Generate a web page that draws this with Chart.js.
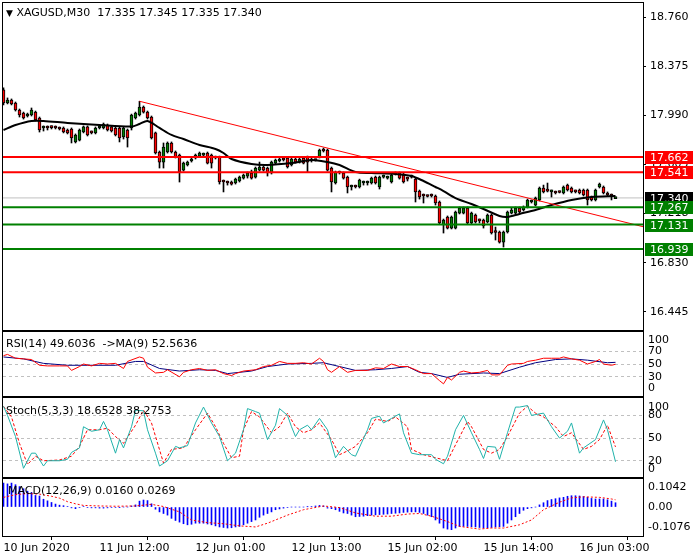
<!DOCTYPE html>
<html>
<head>
<meta charset="utf-8">
<script src="https://cdn.jsdelivr.net/npm/chart.js@4/dist/chart.umd.min.js"></script>
<style>
  body { margin: 0; background: #fff; }
  #wrap { position: relative; width: 700px; height: 560px; font-family: "DejaVu Sans"; font-size: 11px; color: #000; }
  canvas { position: absolute; left: 0; }
  .lbl { position: absolute; white-space: pre; line-height: 13px; }
</style>
</head>
<body>
<div id="wrap">
  <canvas id="main" width="700" height="332" style="top:0;width:700px;height:332px"></canvas>
  <canvas id="rsi" width="700" height="66" style="top:331px;width:700px;height:66px"></canvas>
  <canvas id="stoch" width="700" height="81" style="top:397px;width:700px;height:81px"></canvas>
  <canvas id="macd" width="700" height="82" style="top:478px;width:700px;height:82px"></canvas>
  <div class="lbl" style="left:6px;top:6px"><span style="font-size:9px">▼</span> XAGUSD,M30  17.335 17.345 17.335 17.340</div>
  <div class="lbl" style="left:6px;top:337px">RSI(14) 49.6036  -&gt;MA(9) 52.5636</div>
  <div class="lbl" style="left:6px;top:404px">Stoch(5,3,3) 18.6528 38.2753</div>
  <div class="lbl" style="left:8px;top:484px">MACD(12,26,9) 0.0160 0.0269</div>
</div>
<script>
// XAGUSD M30 candles, one entry per bar
const barOpen = [18.189,18.086,18.110,18.086,18.031,18.007,17.984,17.992,18.015,17.968,
  17.890,17.898,17.896,17.893,17.890,17.890,17.874,17.882,17.780,17.795,
  17.858,17.898,17.858,17.851,17.890,17.890,17.913,17.898,17.890,17.890,
  17.819,17.874,17.890,17.968,17.992,18.055,18.015,17.976,17.851,17.701,
  17.622,17.701,17.772,17.701,17.677,17.559,17.599,17.630,17.654,17.669,
  17.677,17.693,17.677,17.662,17.662,17.473,17.465,17.465,17.457,17.473,
  17.496,17.512,17.536,17.504,17.559,17.583,17.575,17.536,17.614,17.630,
  17.646,17.654,17.599,17.646,17.622,17.654,17.662,17.646,17.638,17.662,
  17.717,17.717,17.575,17.457,17.544,17.536,17.504,17.426,17.434,17.426,
  17.457,17.457,17.457,17.504,17.426,17.504,17.496,17.465,17.528,17.536,
  17.520,17.496,17.504,17.488,17.394,17.363,17.355,17.363,17.355,17.308,
  17.127,17.190,17.103,17.103,17.221,17.221,17.261,17.143,17.206,17.166,
  17.166,17.151,17.206,17.072,17.072,16.993,17.072,17.221,17.221,17.261,
  17.245,17.269,17.308,17.284,17.324,17.418,17.402,17.387,17.387,17.387,
  17.379,17.441,17.418,17.394,17.402,17.402,17.402,17.347,17.324,17.426,
  17.426,17.379,17.363,17.335];
const barHigh = [18.205,18.126,18.118,18.094,18.039,18.015,18.007,18.047,18.023,17.976,
  17.906,17.906,17.906,17.906,17.898,17.898,17.882,17.890,17.843,17.882,
  17.906,17.906,17.866,17.898,17.906,17.929,17.921,17.906,17.898,17.898,
  17.898,17.882,17.999,18.015,18.100,18.063,18.023,17.984,17.858,17.709,
  17.772,17.780,17.780,17.709,17.685,17.622,17.630,17.654,17.685,17.701,
  17.693,17.701,17.685,17.669,17.669,17.481,17.473,17.473,17.496,17.512,
  17.528,17.544,17.559,17.583,17.622,17.591,17.583,17.630,17.646,17.654,
  17.654,17.662,17.654,17.654,17.654,17.662,17.669,17.654,17.646,17.724,
  17.732,17.724,17.583,17.551,17.551,17.544,17.512,17.441,17.441,17.488,
  17.473,17.473,17.504,17.512,17.512,17.520,17.512,17.528,17.544,17.544,
  17.536,17.504,17.520,17.496,17.402,17.371,17.363,17.371,17.363,17.316,
  17.174,17.198,17.198,17.237,17.269,17.269,17.269,17.229,17.214,17.174,
  17.174,17.214,17.214,17.111,17.080,17.080,17.237,17.261,17.269,17.269,
  17.277,17.331,17.324,17.347,17.426,17.441,17.457,17.402,17.394,17.394,
  17.434,17.449,17.426,17.402,17.410,17.410,17.410,17.355,17.410,17.457,
  17.434,17.387,17.371,17.345];
const barLow = [18.071,18.079,18.071,18.023,17.976,17.960,17.976,17.984,17.945,17.858,
  17.866,17.874,17.882,17.882,17.874,17.851,17.843,17.772,17.772,17.788,
  17.851,17.827,17.843,17.843,17.882,17.882,17.866,17.858,17.827,17.780,
  17.803,17.740,17.874,17.960,17.984,18.007,17.960,17.803,17.685,17.575,
  17.575,17.693,17.693,17.654,17.465,17.551,17.591,17.622,17.646,17.662,
  17.669,17.607,17.575,17.646,17.449,17.387,17.441,17.441,17.449,17.465,
  17.488,17.496,17.488,17.496,17.551,17.551,17.512,17.528,17.607,17.622,
  17.630,17.575,17.591,17.614,17.614,17.607,17.544,17.622,17.630,17.654,
  17.701,17.551,17.387,17.449,17.528,17.488,17.379,17.402,17.418,17.418,
  17.441,17.441,17.449,17.449,17.410,17.496,17.488,17.457,17.520,17.488,
  17.457,17.473,17.496,17.308,17.331,17.300,17.347,17.347,17.284,17.135,
  17.064,17.096,17.096,17.096,17.214,17.214,17.135,17.135,17.143,17.143,
  17.103,17.143,17.056,17.009,16.985,16.954,17.064,17.214,17.214,17.221,
  17.237,17.261,17.300,17.277,17.316,17.379,17.387,17.347,17.371,17.379,
  17.371,17.394,17.379,17.379,17.371,17.355,17.284,17.316,17.316,17.418,
  17.371,17.355,17.324,17.335];
const barClose = [18.086,18.110,18.079,18.031,17.992,17.968,17.992,18.031,17.953,17.874,
  17.898,17.890,17.893,17.890,17.882,17.858,17.851,17.811,17.835,17.874,
  17.898,17.835,17.851,17.890,17.898,17.921,17.874,17.866,17.835,17.811,
  17.890,17.811,17.992,18.007,18.055,18.015,17.968,17.811,17.693,17.622,
  17.740,17.772,17.701,17.662,17.544,17.614,17.622,17.646,17.677,17.693,
  17.685,17.614,17.614,17.654,17.465,17.465,17.457,17.449,17.488,17.504,
  17.520,17.536,17.496,17.575,17.583,17.559,17.536,17.622,17.638,17.646,
  17.638,17.583,17.646,17.622,17.646,17.614,17.622,17.630,17.634,17.717,
  17.709,17.559,17.465,17.544,17.536,17.496,17.426,17.430,17.426,17.481,
  17.465,17.465,17.496,17.457,17.504,17.512,17.500,17.520,17.536,17.496,
  17.465,17.488,17.512,17.387,17.347,17.355,17.351,17.355,17.300,17.143,
  17.166,17.103,17.190,17.229,17.261,17.261,17.143,17.221,17.151,17.159,
  17.119,17.206,17.064,17.068,16.993,17.072,17.229,17.245,17.261,17.229,
  17.269,17.324,17.312,17.339,17.418,17.387,17.394,17.390,17.379,17.383,
  17.426,17.402,17.387,17.387,17.379,17.363,17.324,17.324,17.402,17.449,
  17.379,17.363,17.355,17.340];

// moving average on price, [bar, price]
const maLine = [[0,17.874],[3,17.913],[7,17.945],[10,17.945],[16,17.929],[24,17.913],[32,17.901],
  [34,17.921],[36,17.945],[39,17.890],[42,17.835],[45,17.803],[49,17.756],[53,17.725],[55,17.693],
  [57,17.646],[62,17.607],[66,17.599],[72,17.614],[77,17.638],[81,17.622],[84,17.599],[88,17.544],
  [92,17.536],[98,17.528],[102,17.512],[105,17.473],[108,17.426],[110,17.394],[113,17.339],
  [117,17.292],[120,17.253],[124,17.198],[126,17.190],[129,17.214],[133,17.245],[137,17.284],
  [142,17.324],[147,17.347],[153,17.355]];
const trendLine = [[34,18.100],[159.875,17.114]];
const redLevels = [17.662, 17.541];
const greenLevels = [17.267, 17.131, 16.939];
const lastPrice = 17.340;
const priceTicks = [18.760, 18.375, 17.990, 17.605, 17.218, 16.830, 16.445];

// RSI(14) and its MA(9), [bar, value]
const rsiLine = [[0,63],[1,65],[3,59],[5,58],[7,57],[9,48],[11,47],[14,47],[16,47],[17,40],[19,46],[20,50],
  [22,47],[24,51],[26,50],[28,51],[30,43],[31,54],[34,61],[35,59],[36,45],[38,36],[40,37],[41,41],[44,30],
  [45,37],[47,41],[49,43],[51,40],[53,41],[55,35],[57,32],[58,35],[60,39],[63,41],[65,46],[67,48],[69,54],
  [71,51],[73,51],[75,52],[77,50],[79,59],[80,54],[81,41],[82,37],[84,46],[86,37],[88,40],[91,40],[93,44],
  [95,43],[97,50],[99,46],[101,46],[103,41],[105,35],[107,35],[109,24],[110,19],[111,29],[112,25],[114,37],
  [115,39],[117,36],[119,37],[121,40],[122,33],[124,33],[126,48],[127,50],[130,51],[131,54],[133,56],
  [135,59],[137,59],[139,59],[140,61],[142,58],[144,56],[146,50],[148,54],[149,57],[150,50],[152,48],[153,49.6]];
const rsiMa = [[0,61],[5,58],[10,51],[16,48],[21,48],[28,48],[33,54],[35,54],[39,43],[44,39],[49,41],
  [53,40],[56,35],[62,39],[66,46],[71,50],[77,51],[80,52],[84,46],[88,40],[93,41],[97,43],[101,46],
  [104,37],[107,35],[111,29],[114,34],[120,36],[124,35],[129,45],[133,52],[138,57],[142,58],[146,56],
  [151,52],[153,52.6]];
const rsiTicks = [100, 70, 50, 30, 0];

// Stochastic(5,3,3)
const stochMain = [[0,92],[1,80],[3,52],[5,10],[7,30],[8,30],[10,13],[11,20],[14,20],[16,22],[17,31],
  [19,37],[20,65],[22,59],[24,61],[25,72],[26,61],[28,30],[29,48],[30,37],[32,65],[33,87],[35,86],[36,61],
  [38,30],[39,13],[41,20],[43,39],[44,37],[46,40],[48,70],[50,91],[52,70],[54,52],[56,20],[58,30],[60,61],
  [61,89],[63,85],[64,83],[66,48],[68,67],[69,89],[71,80],[72,65],[73,52],[74,61],[76,67],[77,61],[79,76],
  [81,61],[83,24],[85,39],[87,28],[88,26],[91,61],[92,76],[94,79],[95,70],[97,76],[99,82],[100,57],
  [102,30],[104,28],[107,28],[108,22],[110,16],[111,26],[113,61],[115,80],[117,57],[119,35],[120,23],
  [121,39],[123,38],[124,22],[126,57],[128,91],[129,91],[131,93],[132,80],[135,83],[137,65],[139,50],
  [141,59],[142,70],[144,30],[145,37],[148,48],[150,74],[151,61],[153,18.65]];
const stochSignal = [[0,92],[2,78],[4,43],[6,15],[8,26],[10,20],[14,21],[17,26],[19,39],[21,61],[24,61],
  [26,63],[28,52],[30,43],[33,67],[35,87],[37,70],[40,17],[42,35],[45,37],[48,61],[51,83],[53,65],
  [55,43],[57,24],[59,26],[60,61],[62,85],[64,78],[67,57],[69,65],[71,83],[73,65],[75,57],[77,61],
  [79,70],[82,48],[84,28],[86,33],[88,39],[91,57],[93,75],[96,72],[98,78],[101,65],[102,35],[105,28],
  [108,24],[111,20],[113,41],[116,72],[117,65],[120,35],[122,30],[124,35],[126,52],[129,83],[131,92],
  [133,83],[135,78],[138,65],[140,52],[142,57],[145,35],[147,39],[149,48],[151,67],[153,38.28]];
const stochTicks = [100, 80, 50, 20, 0];

// MACD(12,26,9): histogram per bar and signal line
const macdHist = [.089,.086,.089,.083,.076,.068,.059,.054,.043,.041,
  .029,.023,.017,.011,.007,.005,.002,-.003,-.006,-.002,
  .002,-.002,-.003,-.003,-.004,-.004,-.003,-.002,-.002,-.001,
  0,0,.004,.008,.022,.026,.024,.012,-.008,-.018,
  -.024,-.030,-.042,-.050,-.056,-.062,-.066,-.064,-.060,-.060,
  -.060,-.063,-.066,-.070,-.074,-.076,-.078,-.077,-.074,-.072,
  -.066,-.060,-.054,-.048,-.038,-.030,-.024,-.018,-.010,-.007,
  -.004,-.002,0,0,0,0,.001,.002,.004,.006,
  .004,-.004,-.006,-.010,-.016,-.022,-.024,-.030,-.036,-.035,
  -.034,-.032,-.030,-.029,-.028,-.027,-.026,-.024,-.023,-.022,
  -.020,-.019,-.018,-.018,-.020,-.024,-.030,-.036,-.048,-.060,
  -.078,-.082,-.084,-.078,-.072,-.072,-.072,-.073,-.074,-.076,
  -.078,-.077,-.076,-.074,-.073,-.072,-.060,-.048,-.036,-.024,
  -.012,-.006,-.003,0,.008,.016,.024,.028,.031,.034,
  .036,.040,.042,.042,.041,.039,.036,.032,.030,.030,
  .030,.027,.022,.016];
const macdSignal = [[0,.036],[3,.046],[6,.050],[9,.048],[12,.040],[14,.033],[16,.020],[18,.012],[20,.006],
  [24,.004],[28,.003],[33,.004],[37,.010],[40,.002],[44,-.018],[47,-.048],[51,-.058],[55,-.062],[59,-.070],
  [63,-.074],[66,-.060],[71,-.030],[75,-.010],[80,.004],[84,-.002],[88,-.022],[93,-.034],[97,-.034],
  [101,-.026],[104,-.024],[107,-.034],[111,-.054],[114,-.072],[119,-.082],[122,-.078],[125,-.078],
  [129,-.066],[132,-.048],[135,-.010],[139,.018],[142,.034],[145,.038],[149,.036],[152,.030],[153,.0269]];
const macdMax = 0.1042, macdMin = -0.1076;

const tickBars = [0, 24, 48, 72, 96, 120, 144];
const tickLabels = ['10 Jun 2020', '11 Jun 12:00', '12 Jun 01:00', '12 Jun 13:00', '15 Jun 02:00', '15 Jun 14:00', '16 Jun 03:00'];

const xMin = -0.125, xMax = 159.875;
const GREEN = '#008000', RED = '#ff0000';

Chart.defaults.font.family = '"DejaVu Sans"';
Chart.defaults.font.size = 11;
Chart.defaults.color = '#000';
Chart.defaults.animation = false;
Chart.defaults.plugins.legend.display = false;
Chart.defaults.plugins.tooltip.enabled = false;

const pts = arr => arr.map(([x, y]) => ({ x, y }));

// black box round every plot area
const frame = {
  id: 'frame',
  afterDatasetsDraw(chart) {
    const a = chart.chartArea, ctx = chart.ctx;
    ctx.save();
    ctx.strokeStyle = '#000';
    ctx.lineWidth = 1;
    ctx.strokeRect(a.left - 0.5, a.top - 0.5, a.right - a.left + 1, a.bottom - a.top + 1);
    ctx.restore();
  }
};

// coloured price tags on the right axis
const priceTags = {
  id: 'priceTags',
  afterDraw(chart) {
    const { ctx, scales: { y } } = chart;
    const tags = [{ v: lastPrice, c: '#000' }]
      .concat(redLevels.map(v => ({ v, c: RED })))
      .concat(greenLevels.map(v => ({ v, c: GREEN })));
    ctx.save();
    ctx.font = '11px "DejaVu Sans"';
    ctx.textBaseline = 'middle';
    tags.forEach(t => {
      const py = Math.round(y.getPixelForValue(t.v));
      ctx.fillStyle = t.c;
      ctx.fillRect(645, py - 6, 48, 13);
      ctx.fillStyle = '#fff';
      ctx.fillText(t.v.toFixed(3), 650, py + 1);
    });
    ctx.restore();
  }
};

function hiddenX() {
  return { type: 'linear', min: xMin, max: xMax, offset: false, display: false };
}

function rightAxis(min, max, values, label, extra) {
  return Object.assign({
    type: 'linear', position: 'right', min, max,
    afterBuildTicks: s => { s.ticks = values.map(v => ({ value: v })); },
    afterFit: s => { s.width = 57; s.paddingTop = 0; s.paddingBottom = 0; },
    ticks: { callback: label, padding: 5, autoSkip: false },
    grid: { drawOnChartArea: false, drawTicks: false },
    border: { display: false }
  }, extra || {});
}

function edgeLabel(v) {
  if (v === 100) return ['', '100'];
  if (v === 0) return ['0', ''];
  return String(v);
}

function levelGrid(levels) {
  return {
    drawOnChartArea: true, drawTicks: false,
    color: c => (c.tick && levels.includes(c.tick.value)) ? '#c0c0c0' : 'rgba(0,0,0,0)'
  };
}

function flatLine(v, color, width, order) {
  return {
    type: 'line', data: [{ x: xMin, y: v }, { x: xMax, y: v }],
    borderColor: color, borderWidth: width, pointRadius: 0, order: order
  };
}

// ---- price panel
const bars = barOpen.map((o, i) => i);
new Chart(document.getElementById('main'), {
  type: 'bar',
  data: {
    datasets: [
      flatLine(lastPrice, '#c0c0c0', 1, 9),
      {
        data: bars.map(i => ({ x: i, y: [barLow[i], barHigh[i]] })),
        backgroundColor: '#000', barThickness: 1, grouped: false, order: 4
      },
      {
        data: bars.map(i => ({ x: i, y: [barOpen[i], barClose[i]] })),
        backgroundColor: bars.map(i => barClose[i] >= barOpen[i] ? GREEN : RED),
        borderColor: '#000', borderWidth: 1, borderSkipped: false,
        barThickness: 3, minBarLength: 2, grouped: false, order: 3
      },
      {
        type: 'line', data: pts(maLine), borderColor: '#000', borderWidth: 2,
        pointRadius: 0, tension: 0.3, order: 2
      },
      ...redLevels.map(v => flatLine(v, RED, 2, 0)),
      ...greenLevels.map(v => flatLine(v, GREEN, 2, 0)),
      { type: 'line', data: pts(trendLine), borderColor: RED, borderWidth: 1, pointRadius: 0, order: 0 }
    ]
  },
  options: {
    responsive: false,
    layout: { padding: { left: 3, top: 3, right: 0, bottom: 2 } },
    scales: {
      x: hiddenX(),
      y: rightAxis(16.3017, 18.8724, priceTicks, v => v.toFixed(3), {
        ticks: { callback: v => v.toFixed(3), padding: 4, autoSkip: false },
        grid: { drawOnChartArea: false, drawTicks: true, tickLength: 3, color: '#000' }
      })
    }
  },
  plugins: [frame, priceTags]
});

// ---- RSI panel
new Chart(document.getElementById('rsi'), {
  type: 'line',
  data: {
    datasets: [
      { data: pts(rsiLine), borderColor: RED, borderWidth: 1, pointRadius: 0 },
      { data: pts(rsiMa), borderColor: '#000080', borderWidth: 1, pointRadius: 0 }
    ]
  },
  options: {
    responsive: false,
    layout: { padding: { left: 3, top: 1, right: 0, bottom: 1 } },
    scales: {
      x: hiddenX(),
      y: rightAxis(0, 100, rsiTicks, edgeLabel, {
        ticks: { callback: edgeLabel, padding: 5, autoSkip: false, font: { lineHeight: 1.45 } },
        grid: levelGrid([70, 50, 30]),
        border: { display: false, dash: [3, 3] }
      })
    }
  },
  plugins: [frame]
});

// ---- Stochastic panel
new Chart(document.getElementById('stoch'), {
  type: 'line',
  data: {
    datasets: [
      { data: pts(stochMain), borderColor: '#20b2aa', borderWidth: 1, pointRadius: 0 },
      { data: pts(stochSignal), borderColor: RED, borderWidth: 1, borderDash: [3, 2], pointRadius: 0 }
    ]
  },
  options: {
    responsive: false,
    layout: { padding: { left: 3, top: 1, right: 0, bottom: 1 } },
    scales: {
      x: hiddenX(),
      y: rightAxis(-1.5, 103, stochTicks, edgeLabel, {
        grid: levelGrid([80, 50, 20]),
        border: { display: false, dash: [3, 3] }
      })
    }
  },
  plugins: [frame]
});

// ---- MACD panel with the time axis
new Chart(document.getElementById('macd'), {
  type: 'bar',
  data: {
    datasets: [
      {
        data: macdHist.map((v, i) => ({ x: i, y: v })),
        backgroundColor: '#0000ff', barThickness: 1, grouped: false, order: 2
      },
      {
        type: 'line', data: pts(macdSignal), borderColor: RED, borderWidth: 1,
        borderDash: [2, 2], pointRadius: 0, order: 1
      }
    ]
  },
  options: {
    responsive: false,
    layout: { padding: { left: 3, top: 1, right: 0, bottom: 0 } },
    scales: {
      x: {
        type: 'linear', min: xMin, max: xMax, offset: false,
        afterBuildTicks: s => { s.ticks = tickBars.map(v => ({ value: v })); },
        afterFit: s => { s.height = 24; s.paddingLeft = 0; s.paddingRight = 0; },
        ticks: { callback: (v, i) => tickLabels[i], align: 'start', maxRotation: 0, autoSkip: false, padding: 2 },
        grid: { drawOnChartArea: false, drawTicks: true, tickLength: 4, color: '#000' },
        border: { display: false }
      },
      y: rightAxis(macdMin, macdMax, [macdMax, 0, macdMin], null, {
        ticks: {
          callback: v => {
            if (v === macdMax) return ['', macdMax.toFixed(4)];
            if (v === macdMin) return [macdMin.toFixed(4), ''];
            return '0.00';
          },
          padding: 5, autoSkip: false, font: { lineHeight: 1.55 }
        }
      })
    }
  },
  plugins: [frame]
});
</script>
</body>
</html>
